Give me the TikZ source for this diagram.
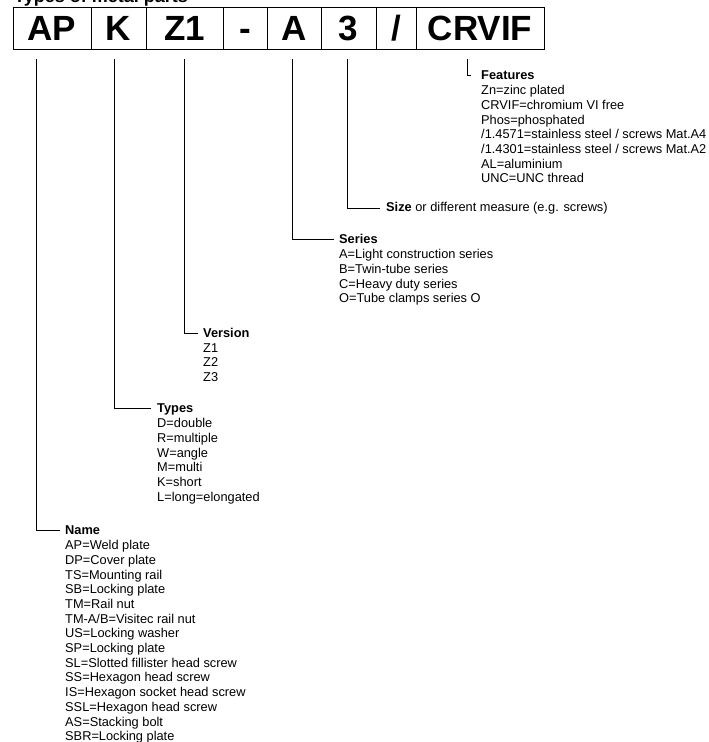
\documentclass[tikz,border=0pt]{standalone}
\usepackage{fontspec}
\setmainfont{Liberation Sans}
\usetikzlibrary{positioning}

\tikzset{
  part/.style={draw, line width=0.8pt, minimum height=42pt, inner sep=0pt, outer sep=0pt,
    font=\fontsize{35}{35}\selectfont\bfseries, text height=25pt, text depth=0pt},
  head/.style={anchor=west, inner sep=0pt, font=\fontsize{12.8}{14.7}\selectfont\bfseries,
    text height=9.2pt, text depth=0pt},
  items/.style={inner sep=0pt, align=left, font=\fontsize{12.8}{14.7}\selectfont},
  lead/.style={line width=0.8pt}
}

\begin{document}
\begin{tikzpicture}[x=1pt, y=-1pt]

    \useasboundingbox (0,0) rectangle (709,742);

    \node[anchor=base west, inner sep=0pt, font=\fontsize{18}{18}\selectfont\bfseries] (title) at (14,2) {Types of metal parts};

    % the code boxes
    \node[part, minimum width=78pt, anchor=north west] (ap) at (13,7) {AP};
    \node[part, minimum width=55pt, right=0pt of ap] (k) {K};
    \node[part, minimum width=77pt, right=0pt of k] (z1) {Z1};
    \node[part, minimum width=44pt, right=0pt of z1] (dash) {-};
    \node[part, minimum width=54pt, right=0pt of dash] (a) {A};
    \node[part, minimum width=55pt, right=0pt of a] (three) {3};
    \node[part, minimum width=40pt, right=0pt of three] (slash) {/};
    \node[part, minimum width=128pt, right=0pt of slash] (crvif) {CRVIF};

    \coordinate (apfoot) at (36,59);
    \coordinate (kfoot) at (114,59);
    \coordinate (zfoot) at (184,59);
    \coordinate (afoot) at (292,59);
    \coordinate (sizefoot) at (347,59);
    \coordinate (featfoot) at (467,59);

    % the legends
    \node[head] (features) at (481,75) {Features};
    \node[items, below=5.4pt of features.south west, anchor=north west] (featlist) {%
        Zn=zinc plated\\
        CRVIF=chromium VI free\\
        Phos=phosphated\\
        /1.4571=stainless steel / screws Mat.A4\\
        /1.4301=stainless steel / screws Mat.A2\\
        AL=aluminium\\
        UNC=UNC thread};

    \node[items, anchor=west] (size) at (386,208) {\textbf{Size} or different measure (e.g. screws)};

    \node[head] (series) at (339,239) {Series};
    \node[items, below=5.4pt of series.south west, anchor=north west] (serieslist) {%
        A=Light construction series\\
        B=Twin-tube series\\
        C=Heavy duty series\\
        O=Tube clamps series O};

    \node[head] (version) at (203,333) {Version};
    \node[items, below=5.4pt of version.south west, anchor=north west] (versionlist) {%
        Z1\\
        Z2\\
        Z3};

    \node[head] (types) at (157,408) {Types};
    \node[items, below=5.4pt of types.south west, anchor=north west] (typeslist) {%
        D=double\\
        R=multiple\\
        W=angle\\
        M=multi\\
        K=short\\
        L=long=elongated};

    \node[head] (name) at (65,530) {Name};
    \node[items, below=5.4pt of name.south west, anchor=north west] (namelist) {%
        AP=Weld plate\\
        DP=Cover plate\\
        TS=Mounting rail\\
        SB=Locking plate\\
        TM=Rail nut\\
        TM-A/B=Visitec rail nut\\
        US=Locking washer\\
        SP=Locking plate\\
        SL=Slotted fillister head screw\\
        SS=Hexagon head screw\\
        IS=Hexagon socket head screw\\
        SSL=Hexagon head screw\\
        AS=Stacking bolt\\
        SBR=Locking plate};

    \begin{scope}[lead]
        \draw (featfoot) |- ([xshift=-10pt]features.west);
        \draw (sizefoot) |- ([xshift=-6pt]size.west);
        \draw (afoot) |- ([xshift=-5pt]series.west);
        \draw (zfoot) |- ([xshift=-5pt]version.west);
        \draw (kfoot) |- ([xshift=-6pt]types.west);
        \draw (apfoot) |- ([xshift=-5pt]name.west);
    \end{scope}

\end{tikzpicture}
\end{document}
